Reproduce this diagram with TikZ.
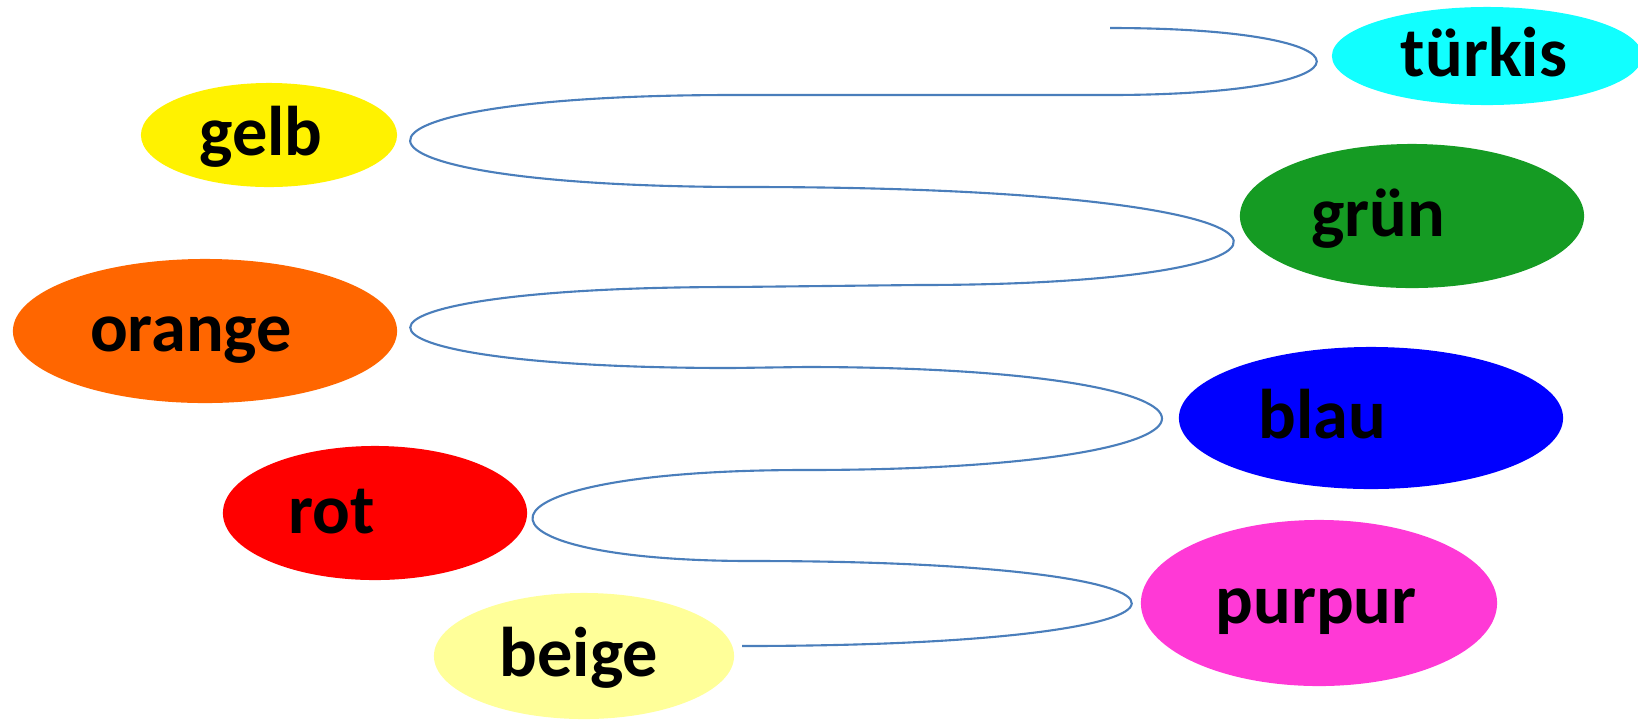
\documentclass[tikz,border=0pt]{standalone}
\usepackage{fontspec}
\setmainfont{Carlito}
\usepackage{xcolor}
\usetikzlibrary{shapes.geometric}

\definecolor{linie}{RGB}{74,126,187}
\definecolor{tuerkisfarbe}{RGB}{17,255,255}
\definecolor{gruenfarbe}{RGB}{21,155,35}
\definecolor{orangefarbe}{RGB}{255,102,0}
\definecolor{purpurfarbe}{RGB}{255,57,214}
\definecolor{beigefarbe}{RGB}{255,255,153}

\begin{document}
\begin{tikzpicture}[x=0.01cm, y=-0.01cm,
    farbe/.style={ellipse, draw=none, inner sep=0pt},
    wort/.style={anchor=base, inner sep=0pt, font=\fontsize{20}{24}\selectfont\bfseries},
    schlange/.style={linie, line width=0.6pt}]
            \useasboundingbox (0,0) rectangle (1638,720);
            % Ellipsen
            \node[farbe, fill=tuerkisfarbe, minimum width=3.10cm, minimum height=0.98cm] (tuerkis) at (1487,56) {};
            \node[farbe, fill=yellow, minimum width=2.56cm, minimum height=1.04cm] (gelb) at (269,135) {};
            \node[farbe, fill=gruenfarbe, minimum width=3.44cm, minimum height=1.44cm] (gruen) at (1412,216) {};
            \node[farbe, fill=orangefarbe, minimum width=3.84cm, minimum height=1.44cm] (orange) at (205,331) {};
            \node[farbe, fill=blue, minimum width=3.84cm, minimum height=1.42cm] (blau) at (1371,418) {};
            \node[farbe, fill=red, minimum width=3.04cm, minimum height=1.34cm] (rot) at (375,513) {};
            \node[farbe, fill=purpurfarbe, minimum width=3.56cm, minimum height=1.66cm] (purpur) at (1319,603) {};
            \node[farbe, fill=beigefarbe, minimum width=3.00cm, minimum height=1.26cm] (beige) at (584,656) {};
            % Woerter
            \node[wort] (tuerkis-t) at (1484,76) {türkis};
            \node[wort] (gelb-t) at (261,155) {gelb};
            \node[wort] (gruen-t) at (1378,236) {grün};
            \node[wort] (orange-t) at (191,351) {orange};
            \node[wort] (blau-t) at (1322,438) {blau};
            \node[wort] (rot-t) at (332,533) {rot};
            \node[wort] (purpur-t) at (1316,623) {purpur};
            \node[wort] (beige-t) at (579,676) {beige};
            % Schlangenlinie
            \coordinate (anfang) at (1110,28);
            \coordinate (ende) at (742,646);
            \draw[schlange] (anfang) .. controls (1386,28) and (1386,95) .. (1108,95)
                -- (733,95) .. controls (300,95) and (300,187) .. (748,187)
                .. controls (1364,187) and (1364,285) .. (918,285)
                -- (733,287) .. controls (303,287) and (303,368) .. (731,368)
                -- (805,367) .. controls (1281,367) and (1281,470) .. (805,470)
                .. controls (451,470) and (451,561) .. (752,561)
                .. controls (1260,561) and (1260,646) .. (ende);
\end{tikzpicture}
\end{document}
